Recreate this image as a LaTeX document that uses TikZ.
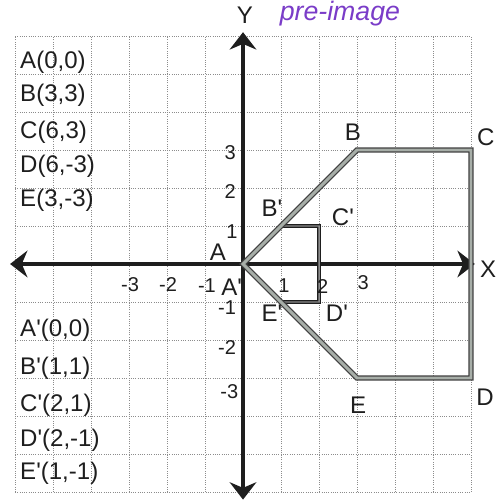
\documentclass[tikz,border=0pt]{standalone}
\usepackage{fontspec}
\setmainfont{Liberation Sans}[Ligatures=TeXOff]
\usetikzlibrary{arrows.meta}
\definecolor{cgInk}{HTML}{1E1E1E}
\definecolor{cgGrid}{HTML}{8C8C8C}
\definecolor{cgShade}{HTML}{A7AEA8}
\definecolor{cgPurple}{HTML}{7A3CC8}
\tikzset{
  cg/grid/.style={draw=cgGrid, densely dotted, line width=0.7pt},
  cg/axis/.style={draw=cgInk, line width=3pt,
    {Stealth[length=13pt,width=20pt]}-{Stealth[length=13pt,width=20pt]}},
  cg/preimage/.style={draw=black!75, line width=0.9pt, double=cgShade,
    double distance=2.2pt},
  cg/image/.style={draw=cgInk, line width=0.8pt, double=black!45,
    double distance=1.1pt},
  cg/label/.style={font=\fontsize{18}{20}\selectfont, text=cgInk, inner sep=0pt},
  cg/table/.style={cg/label, anchor=west},
  cg/tick/.style={font=\fontsize{15}{17}\selectfont, text=cgInk, inner sep=0pt},
  cg/note/.style={font=\fontsize{20}{22}\selectfont\itshape, text=cgPurple,
    anchor=base, inner sep=0pt},
}

\begin{document}
\begin{tikzpicture}
\useasboundingbox (-6.395,-6.237) rectangle (6.658,6.947);
% grid and axes
\draw[cg/grid] (-6,-6) grid (6,6);
\coordinate (xmin) at (-6.13,0);
\coordinate (xmax) at (6.1,0);
\coordinate (ymin) at (0,-6.2);
\coordinate (ymax) at (0,6.1);
\draw[cg/axis] (xmin) -- (xmax);
\draw[cg/axis] (ymin) -- (ymax);
\node[cg/label] (ylab) at (0.05,6.55) {Y};
\node[cg/label] (xlab) at (6.45,-0.14) {X};
% pre-image and image
\coordinate (A) at (0,0);
\coordinate (B) at (3,3);
\coordinate (C) at (6,3);
\coordinate (D) at (6,-3);
\coordinate (E) at (3,-3);
\coordinate (Ap) at (0,0);
\coordinate (Bp) at (1,1);
\coordinate (Cp) at (2,1);
\coordinate (Dp) at (2,-1);
\coordinate (Ep) at (1,-1);
\draw[cg/image] (Ap) -- (Bp) -- (Cp) -- (Dp) -- (Ep) -- cycle;
\draw[cg/preimage] (A) -- (B) -- (C) -- (D) -- (E) -- cycle;
% tick labels
\node[cg/tick] (tx1) at (1.08,-0.58) {1};
\node[cg/tick] (tx2) at (2.1,-0.58) {2};
\node[cg/tick] (tx3) at (3.16,-0.5) {3};
\node[cg/tick] (txm1) at (-0.95,-0.58) {-1};
\node[cg/tick] (txm2) at (-1.97,-0.55) {-2};
\node[cg/tick] (txm3) at (-2.97,-0.55) {-3};
\node[cg/tick] (ty1) at (-0.29,0.84) {1};
\node[cg/tick] (ty2) at (-0.34,1.9) {2};
\node[cg/tick] (ty3) at (-0.34,2.92) {3};
\node[cg/tick] (tym1) at (-0.42,-1.16) {-1};
\node[cg/tick] (tym2) at (-0.42,-2.2) {-2};
\node[cg/tick] (tym3) at (-0.36,-3.37) {-3};
% vertex labels
\node[cg/label] (lA) at (-0.66,0.32) {A};
\node[cg/label] (lB) at (2.89,3.47) {B};
\node[cg/label] (lC) at (6.39,3.34) {C};
\node[cg/label] (lD) at (6.37,-3.5) {D};
\node[cg/label] (lE) at (3.03,-3.71) {E};
\node[cg/label] (lAp) at (-0.3,-0.6) {A'};
\node[cg/label] (lBp) at (0.76,1.47) {B'};
\node[cg/label] (lCp) at (2.63,1.24) {C'};
\node[cg/label] (lDp) at (2.47,-1.29) {D'};
\node[cg/label] (lEp) at (0.76,-1.29) {E'};
% coordinate lists
\node[cg/table] (tA) at (-5.87,5.32) {A(0,0)};
\node[cg/table] (tB) at (-5.87,4.45) {B(3,3)};
\node[cg/table] (tC) at (-5.87,3.47) {C(6,3)};
\node[cg/table] (tD) at (-5.87,2.58) {D(6,-3)};
\node[cg/table] (tE) at (-5.87,1.68) {E(3,-3)};
\node[cg/table] (tAp) at (-5.87,-1.74) {A'(0,0)};
\node[cg/table] (tBp) at (-5.87,-2.74) {B'(1,1)};
\node[cg/table] (tCp) at (-5.87,-3.71) {C'(2,1)};
\node[cg/table] (tDp) at (-5.87,-4.63) {D'(2,-1)};
\node[cg/table] (tEp) at (-5.87,-5.5) {E'(1,-1)};
\node[cg/note] (pre) at (2.55,6.42) {pre-image};
\end{tikzpicture}
\end{document}
